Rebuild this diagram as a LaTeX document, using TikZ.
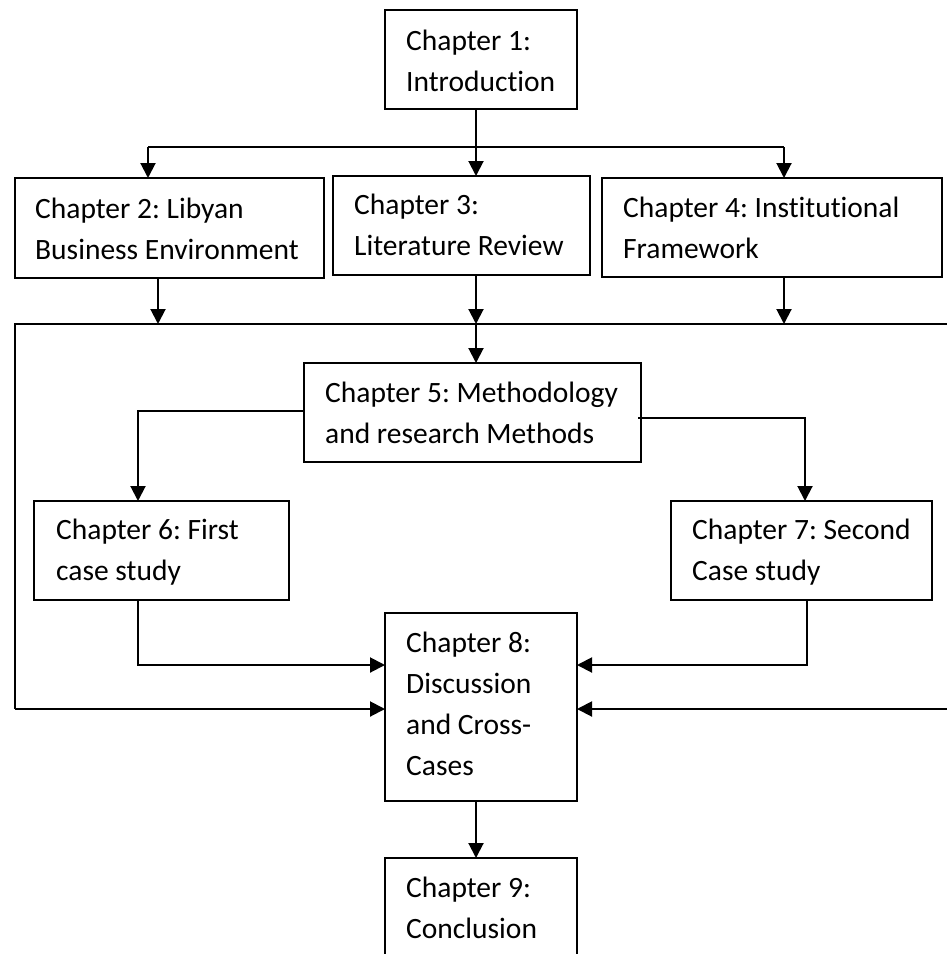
\documentclass[tikz,border=0pt]{standalone}
\usepackage{fontspec}
\setmainfont{Carlito}[Ligatures=NoCommon]
\usetikzlibrary{arrows.meta}
\frenchspacing
\begin{document}
\begin{tikzpicture}[x=1pt,y=-1pt,
  box/.style={draw,line width=2pt,anchor=north west,inner sep=0pt,outer sep=0pt},
  txt/.style={anchor=base west,align=left,inner sep=0pt,font=\fontsize{29.5}{41}\selectfont},
  conn/.style={line width=2pt},
  arr/.style={line width=2pt,-{Triangle[length=15pt,width=15pt]}}]
\useasboundingbox (0,0) rectangle (947,954);
\clip (0,0) rectangle (947,954);
% boxes
\node[box,minimum width=192pt,minimum height=99pt] (b1) at (385,10) {};
\node[box,minimum width=309pt,minimum height=100pt] (b2) at (15,178) {};
\node[box,minimum width=257pt,minimum height=99pt] (b3) at (333,176) {};
\node[box,minimum width=340pt,minimum height=99pt] (b4) at (602,178) {};
\node[box,minimum width=337pt,minimum height=99pt] (b5) at (304,363) {};
\node[box,minimum width=255pt,minimum height=99pt] (b6) at (34,501) {};
\node[box,minimum width=261pt,minimum height=99pt] (b7) at (671,501) {};
\node[box,minimum width=192pt,minimum height=188pt] (b8) at (385,613) {};
\node[box,minimum width=192pt,minimum height=120pt] (b9) at (385,858) {};
% texts (anchor is the baseline of the last line)
\node[txt] (t1) at (406,91) {Chapter 1:\\Introduction};
\node[txt] (t2) at (35,259) {Chapter 2: Libyan\\Business Environment};
\node[txt] (t3) at (354,255) {Chapter 3:\\Literature Review};
\node[txt] (t4) at (623,258) {Chapter 4: Institutional\\Framework};
\node[txt] (t5) at (325,443) {Chapter 5: Methodology\\and research Methods};
\node[txt] (t6) at (56,580) {Chapter 6: First\\case study};
\node[txt] (t7) at (692,580) {Chapter 7: Second\\Case study};
\node[txt] (t8) at (406,775) {Chapter 8:\\Discussion\\and Cross-\\Cases};
\node[txt] (t9) at (406,938) {Chapter 9:\\Conclusion};
% junction coordinates
\coordinate (xa) at (148,147);
\coordinate (xm) at (476,147);
\coordinate (xb) at (784,147);
\coordinate (x2) at (158,324);
\coordinate (fm) at (476,324);
\coordinate (x4) at (784,324);
\coordinate (fl) at (15,324);
\coordinate (fr) at (955,324);
\coordinate (fl2) at (15,709);
\coordinate (fr2) at (955,709);
\coordinate (l5) at (138,411);
\coordinate (r5) at (805,418);
\coordinate (x6) at (138,665);
\coordinate (x7) at (807,665);
% connectors
\draw[arr] (b1.south -| xm) -- (b3.north -| xm);
\draw[conn] (xa) -- (xb);
\draw[arr] (xa) -- (b2.north -| xa);
\draw[arr] (xb) -- (b4.north -| xb);
\draw[arr] (b2.south -| x2) -- (x2);
\draw[arr] (b3.south -| fm) -- (fm);
\draw[arr] (b4.south -| x4) -- (x4);
\draw[conn] (fr) -- (fl) -- (fl2);
\draw[arr] (fl2) -- (b8.west |- fl2);
\draw[conn] (fr) -- (fr2);
\draw[arr] (fr2) -- (b8.east |- fr2);
\draw[arr] (fm) -- (b5.north -| fm);
\draw[arr] (b5.west |- l5) -- (l5) -- (b6.north -| l5);
\draw[arr] ([xshift=-3pt]b5.east |- r5) -- (r5) -- (b7.north -| r5);
\draw[arr] (b6.south -| x6) -- (x6) -- (b8.west |- x6);
\draw[arr] (b7.south -| x7) -- (x7) -- (b8.east |- x7);
\draw[arr] (b8.south -| xm) -- (b9.north -| xm);
\end{tikzpicture}
\end{document}
